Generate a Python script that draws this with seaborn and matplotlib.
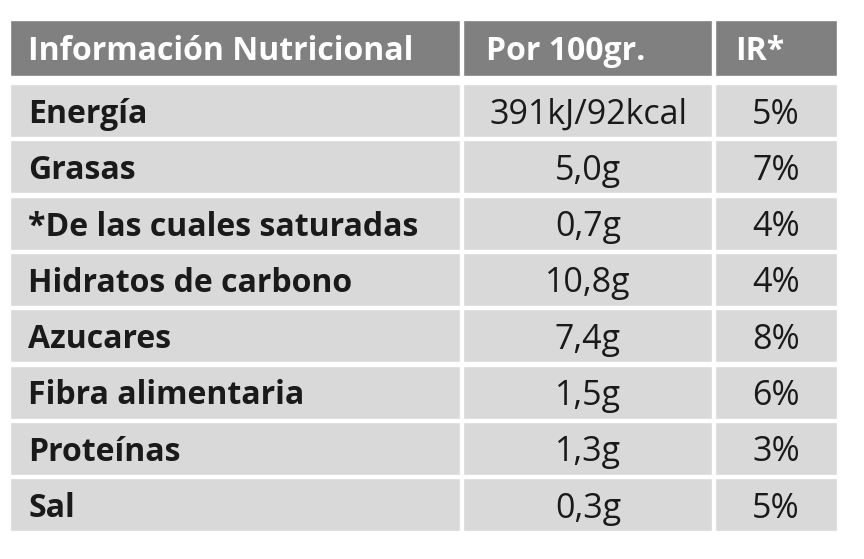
import matplotlib.pyplot as plt
import seaborn as sns

headers = ["Información Nutricional", "Por 100gr.", "IR*"]
nutrients = ["Energía", "Grasas", "*De las cuales saturadas", "Hidratos de carbono",
             "Azucares", "Fibra alimentaria", "Proteínas", "Sal"]
per_100g = ["391kJ/92kcal", "5,0g", "0,7g", "10,8g", "7,4g", "1,5g", "1,3g", "0,3g"]
ir = ["5%", "7%", "4%", "4%", "8%", "6%", "3%", "5%"]

sns.set_theme(style="white")
plt.rcParams["font.family"] = ["Open Sans", "DejaVu Sans"]

col_left = [10, 463, 715]
col_width = [450, 249, 122]
header_top, header_h = 20, 56
row_top, row_step, row_h = 84, 56.3, 53

fig = plt.figure(figsize=(8.64, 5.59), dpi=100)
ax = fig.add_axes([0, 0, 1, 1])
ax.set_xlim(0, 864)
ax.set_ylim(559, 0)
ax.axis("off")

for left, width in zip(col_left, col_width):
    ax.barh(header_top + header_h / 2, width, height=header_h, left=left, color="#808080")
    ys = [row_top + i * row_step + row_h / 2 for i in range(len(nutrients))]
    ax.barh(ys, width, height=row_h, left=left, color="#d9d9d9")

fs_b = 23
fs_r = 24.5
dy = 4
hy = header_top + header_h / 2 + dy
ax.text(28, hy, headers[0], color="white", weight="bold", fontsize=fs_b, va="center", ha="left")
ax.text(566, hy, headers[1], color="white", weight="bold", fontsize=fs_b, va="center", ha="center")
ax.text(735, hy, headers[2], color="white", weight="bold", fontsize=fs_b, va="center", ha="left")

for i, (n, p, r) in enumerate(zip(nutrients, per_100g, ir)):
    y = row_top + i * row_step + row_h / 2 + dy
    ax.text(28, y, n, color="#1a1a1a", weight="bold", fontsize=fs_b, va="center", ha="left")
    ax.text(588, y, p, color="#1a1a1a", fontsize=fs_r, va="center", ha="center")
    ax.text(776, y, r, color="#1a1a1a", fontsize=fs_r, va="center", ha="center")

fig.savefig("out.png", dpi=100, facecolor="white")
